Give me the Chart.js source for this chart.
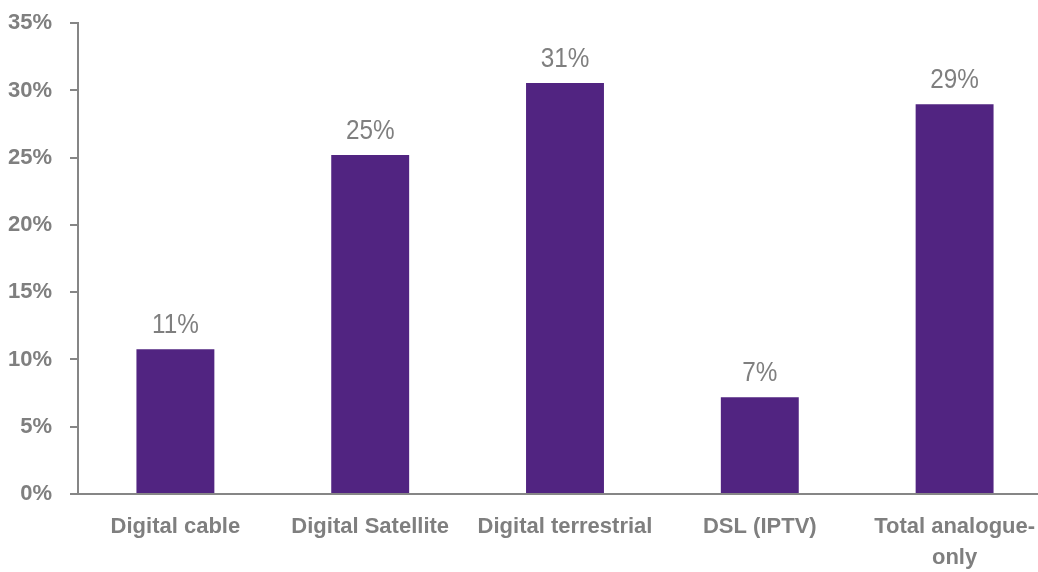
<!DOCTYPE html>
<html>
<head>
<meta charset="utf-8">
<script src="https://cdn.jsdelivr.net/npm/chart.js@4.4.0/dist/chart.umd.min.js"></script>
<style>
  html, body { margin: 0; padding: 0; background: #fff; overflow: hidden; }
  #wrap { width: 1038px; height: 572px; overflow: hidden; }
  #grafica { display: block; margin-top: -8px; }
</style>
</head>
<body>
<div id="wrap"><canvas id="grafica" width="1052" height="580"></canvas></div>
<script>
const categorias = ["Digital cable", "Digital Satellite", "Digital terrestrial", "DSL (IPTV)", ["Total analogue-", "only"]];
const valores = [0.1076, 0.252, 0.3056, 0.072, 0.2898];
const etiquetas = ["11%", "25%", "31%", "7%", "29%"];

const GRIS = "#7f7f7f";
const FUENTE = "'Liberation Sans', Arial, sans-serif";

// etiquetas encima de cada barra, algo estrechadas como en el original
const etiquetasBarras = {
    id: "etiquetasBarras",
    afterDatasetsDraw(chart) {
        const ctx = chart.ctx;
        const meta = chart.getDatasetMeta(0);
        ctx.save();
        ctx.font = "27px " + FUENTE;
        ctx.fillStyle = GRIS;
        ctx.textAlign = "center";
        ctx.textBaseline = "alphabetic";
        meta.data.forEach((bar, i) => {
            ctx.save();
            ctx.translate(bar.x, bar.y - 16);
            ctx.scale(0.9, 1);
            ctx.fillText(etiquetas[i], 0, 0);
            ctx.restore();
        });
        ctx.restore();
    }
};

new Chart(document.getElementById("grafica").getContext("2d"), {
    type: "bar",
    data: {
        labels: categorias,
        datasets: [{
            data: valores,
            backgroundColor: "#512481",
            categoryPercentage: 1,
            barPercentage: 0.4
        }]
    },
    options: {
        responsive: false,
        animation: false,
        layout: { padding: { top: 6, right: 0, left: 0, bottom: 0 } },
        plugins: { legend: { display: false }, tooltip: { enabled: false } },
        scales: {
            y: {
                min: 0,
                max: 0.35,
                afterFit: s => { s.width = 78; },
                ticks: {
                    stepSize: 0.05,
                    padding: 18,
                    color: GRIS,
                    font: { family: FUENTE, size: 22, weight: "bold" },
                    callback: v => Math.round(v * 100) + "%"
                },
                grid: { drawOnChartArea: false, tickLength: 8, tickColor: "#868686", lineWidth: 2 },
                border: { color: "#868686", width: 2 }
            },
            x: {
                afterFit: s => { s.height = 78; },
                ticks: {
                    padding: 10,
                    color: GRIS,
                    font: { family: FUENTE, size: 22, weight: "bold", lineHeight: 1.4 },
                    maxRotation: 0,
                    autoSkip: false
                },
                grid: { display: false },
                border: { color: "#868686", width: 2 }
            }
        }
    },
    plugins: [etiquetasBarras]
});
</script>
</body>
</html>
